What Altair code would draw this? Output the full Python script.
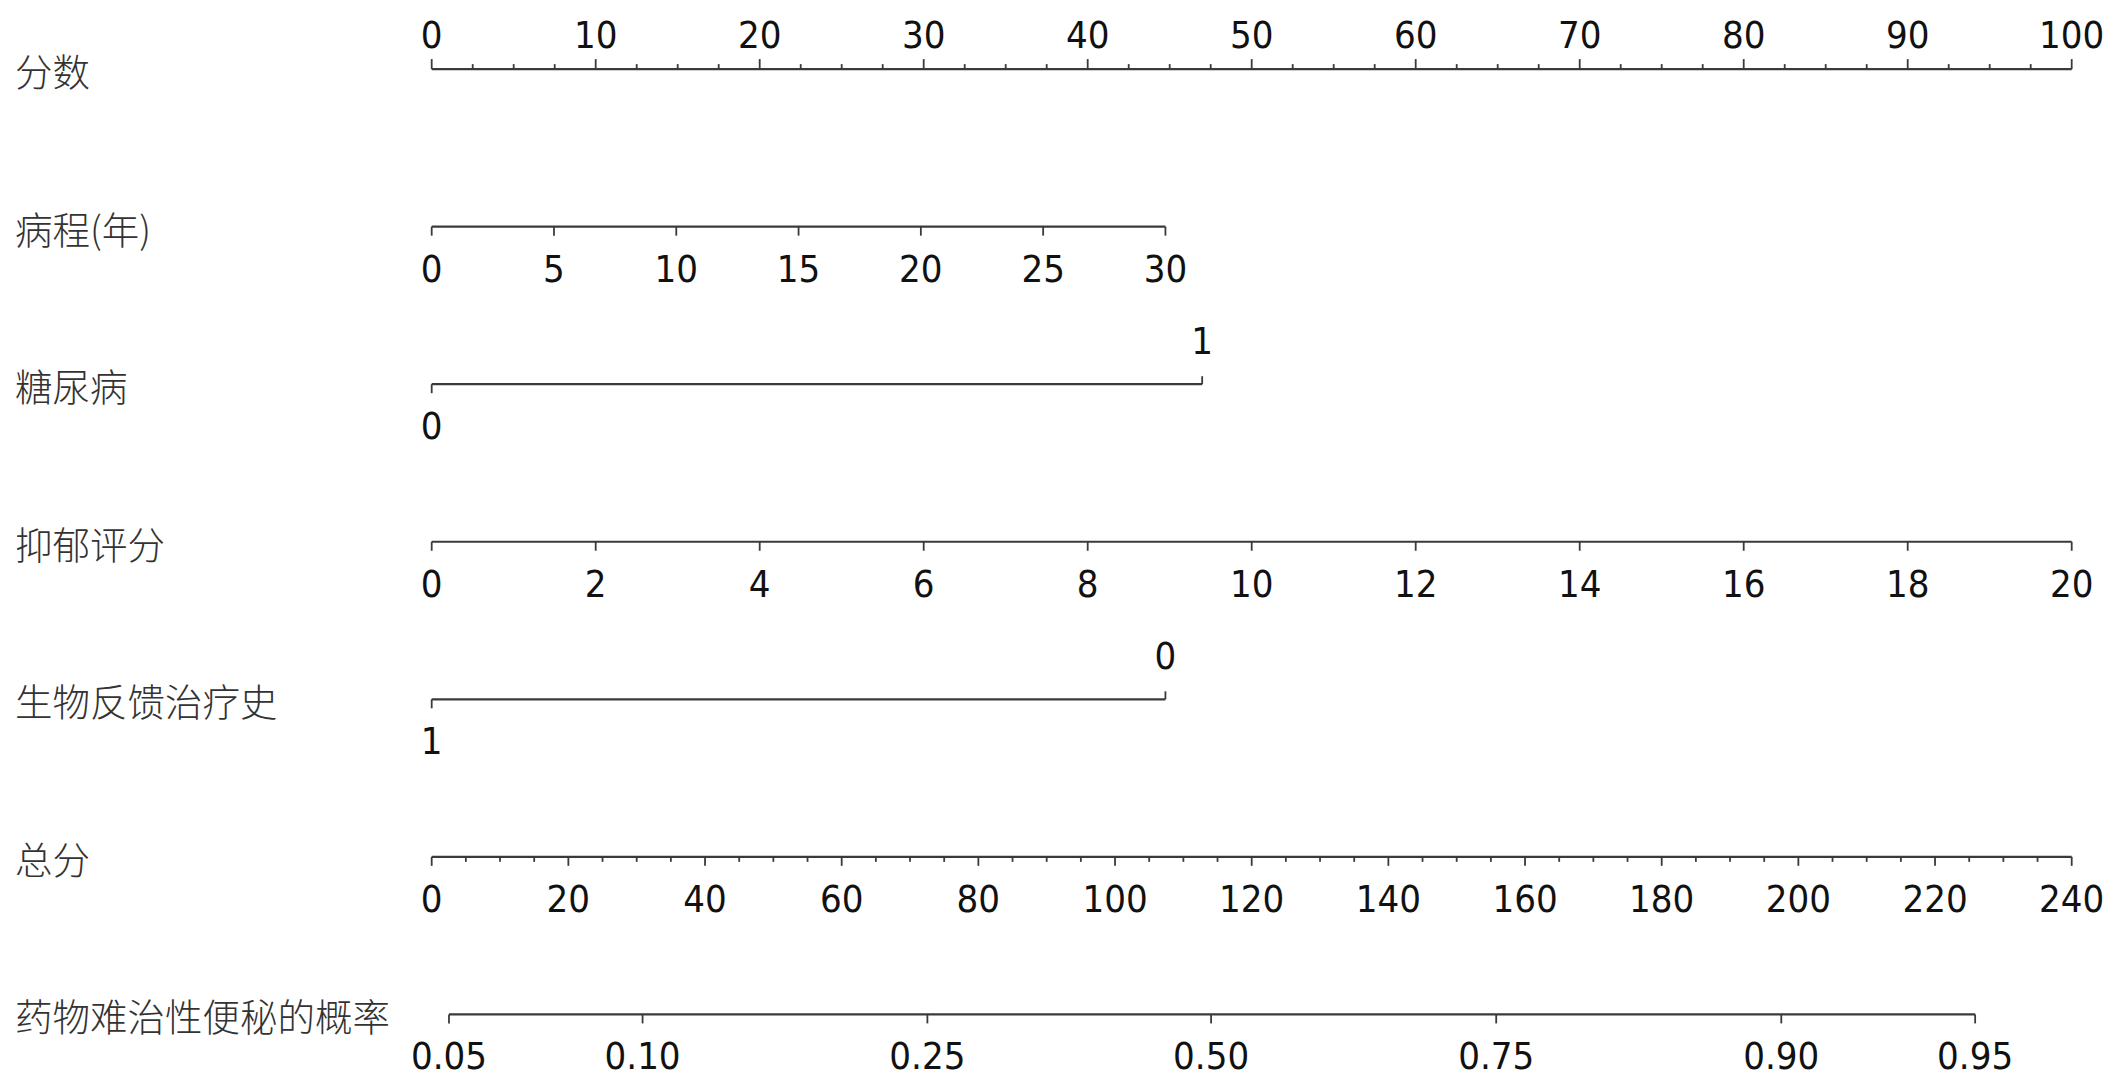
import altair as alt
import pandas as pd
import numpy as np

# ---------------- data ----------------
row_titles = ["分数", "病程(年)", "糖尿病", "抑郁评分", "生物反馈治疗史", "总分", "药物难治性便秘的概率"]

points_major = [0, 10, 20, 30, 40, 50, 60, 70, 80, 90, 100]
points_minor = [v for v in np.arange(0, 100.01, 2.5).tolist() if v % 10 != 0]

duration_labels = [0, 5, 10, 15, 20, 25, 30]
duration_max_points = 44.74          # 30 years -> points

diabetes_labels = ["0", "1"]
diabetes_points = [0.0, 46.98]

depression_labels = [0, 2, 4, 6, 8, 10, 12, 14, 16, 18, 20]
depression_max_points = 100.0        # 20 -> points

biofeedback_labels = ["1", "0"]
biofeedback_points = [0.0, 44.74]

total_major = [0, 20, 40, 60, 80, 100, 120, 140, 160, 180, 200, 220, 240]
total_minor = [v for v in range(0, 241, 5) if v % 20 != 0]
total_max = 240.0                    # total points at right end of scale

prob_labels = ["0.05", "0.10", "0.25", "0.50", "0.75", "0.90", "0.95"]
prob_total_points = [2.53, 30.86, 72.54, 114.06, 155.78, 197.5, 225.87]

# ---------------- build tables ----------------
tp = lambda t: t / total_max * 100.0  # total points -> points axis units

lines = pd.DataFrame({
    "row": [0, 1, 2, 3, 4, 5, 6],
    "x": [0, 0, diabetes_points[0], 0, biofeedback_points[0], 0, tp(prob_total_points[0])],
    "x2": [100, duration_max_points, diabetes_points[1], depression_max_points,
           biofeedback_points[1], 100, tp(prob_total_points[-1])],
})

ticks = []
for v in points_major:
    ticks.append((0, v, "up_major"))
for v in points_minor:
    ticks.append((0, v, "up_minor"))
for v in duration_labels:
    ticks.append((1, v / 30 * duration_max_points, "down_major"))
ticks.append((2, diabetes_points[0], "down_major"))
ticks.append((2, diabetes_points[1], "up_bin"))
for v in depression_labels:
    ticks.append((3, v / 20 * depression_max_points, "down_major"))
ticks.append((4, biofeedback_points[0], "down_major"))
ticks.append((4, biofeedback_points[1], "up_bin"))
for v in total_major:
    ticks.append((5, tp(v), "down_major"))
for v in total_minor:
    ticks.append((5, tp(v), "down_minor"))
for v in prob_total_points:
    ticks.append((6, tp(v), "down_major"))
ticks = pd.DataFrame(ticks, columns=["row", "x", "kind"])

labels = []
for v in points_major:
    labels.append((0, v, str(v), "top"))
for v in duration_labels:
    labels.append((1, v / 30 * duration_max_points, str(v), "below"))
labels.append((2, diabetes_points[0], diabetes_labels[0], "below"))
labels.append((2, diabetes_points[1], diabetes_labels[1], "above"))
for v in depression_labels:
    labels.append((3, v / 20 * depression_max_points, str(v), "below"))
labels.append((4, biofeedback_points[0], biofeedback_labels[0], "below"))
labels.append((4, biofeedback_points[1], biofeedback_labels[1], "above"))
for v in total_major:
    labels.append((5, tp(v), str(v), "below"))
for lab, v in zip(prob_labels, prob_total_points):
    labels.append((6, tp(v), lab, "below"))
labels = pd.DataFrame(labels, columns=["row", "x", "text", "side"])

titles = pd.DataFrame({"row": list(range(len(row_titles))), "title": row_titles})

# ---------------- scales ----------------
xs = alt.Scale(domain=[-25.835, 102.823], zero=False, nice=False)
ys = alt.Scale(domain=[-0.3878, 6.4164], zero=False, nice=False, reverse=True)
X = lambda f="x": alt.X(f"{f}:Q", scale=xs, axis=None)
Y = alt.Y("row:Q", scale=ys, axis=None)

line_color = "#3a3a3a"
text_color = "#111111"
num_font = "DejaVu Sans Condensed"
num_size = 38

base_lines = alt.Chart(lines).mark_rule(color=line_color, strokeWidth=2.2).encode(
    x=X(), x2="x2:Q", y=Y)

def tick_layer(kind, off):
    return alt.Chart(ticks).transform_filter(alt.datum.kind == kind).mark_rule(
        color=line_color, strokeWidth=1.8, y2Offset=off).encode(
        x=X(), y=Y, y2="row:Q")

tl = [tick_layer("up_major", -10), tick_layer("up_minor", -5), tick_layer("up_bin", -8),
      tick_layer("down_major", 9), tick_layer("down_minor", 5)]

def label_layer(side, dy):
    return alt.Chart(labels).transform_filter(alt.datum.side == side).mark_text(
        font=num_font, fontSize=num_size, color=text_color, align="center",
        baseline="alphabetic", dy=dy).encode(x=X(), y=Y, text="text:N")

ll = [label_layer("top", -21), label_layer("above", -30), label_layer("below", 55)]

title_layer = alt.Chart(titles).mark_text(
    font="Noto Sans CJK SC", fontSize=37.5, fontWeight=300, color="#333333",
    align="left", baseline="middle", dy=6).encode(
    x=alt.value(7), y=Y, text="title:N")

chart = alt.layer(base_lines, *tl, *ll, title_layer).properties(
    width=2110, height=1072, padding=0, background="white",
    autosize=alt.AutoSizeParams(type="fit", contains="padding"),
).configure_view(stroke=None)

chart.save("out.html", embed_options={"renderer": "svg", "actions": False})
